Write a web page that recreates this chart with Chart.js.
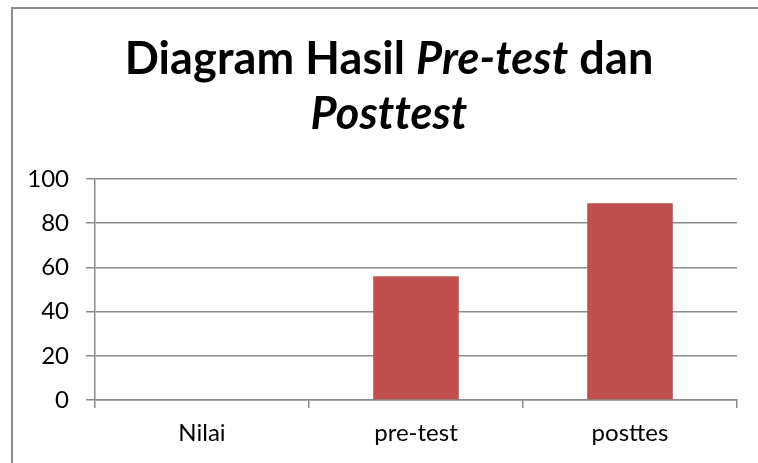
<!DOCTYPE html>
<html>
<head>
<meta charset="utf-8">
<script src="https://cdn.jsdelivr.net/npm/chart.js@4/dist/chart.umd.min.js"></script>
<style>
  html, body { margin: 0; padding: 0; background: #fff; }
  #c { display: block; }
</style>
</head>
<body>
<canvas id="c" width="758" height="463"></canvas>
<script>
const categories = ['Nilai', 'pre-test', 'posttes'];
const values = [0, 56, 89];
const yTicks = [0, 20, 40, 60, 80, 100];
const titleLine1 = [
  { text: 'Diagram Hasil ', italic: false },
  { text: 'Pre-test', italic: true },
  { text: ' dan', italic: false }
];
const titleLine2 = [
  { text: 'Posttest', italic: true }
];

const FONT = 'Lato';
const GRID = '#8a8a8a';

const framePlugin = {
  id: 'frameTitle',
  beforeDraw(chart) {
    const ctx = chart.ctx;
    ctx.save();
    ctx.fillStyle = '#fff';
    ctx.fillRect(0, 0, chart.width, chart.height);
    ctx.strokeStyle = '#8c8c8c';
    ctx.lineWidth = 2;
    ctx.beginPath();
    ctx.moveTo(12, chart.height);
    ctx.lineTo(12, 8);
    ctx.lineTo(chart.width, 8);
    ctx.stroke();
    ctx.restore();
  },
  afterDraw(chart) {
    const ctx = chart.ctx;
    const size = 45;
    const cx = 389;
    const drawLine = (parts, baseline) => {
      ctx.save();
      ctx.fillStyle = '#000';
      ctx.textBaseline = 'alphabetic';
      ctx.textAlign = 'left';
      if ('letterSpacing' in ctx) ctx.letterSpacing = '0.1px';
      let total = 0;
      const widths = parts.map(p => {
        ctx.font = (p.italic ? 'italic ' : '') + 'bold ' + size + 'px ' + FONT;
        const w = ctx.measureText(p.text).width;
        total += w;
        return w;
      });
      let x = cx - total / 2;
      parts.forEach((p, i) => {
        ctx.font = (p.italic ? 'italic ' : '') + 'bold ' + size + 'px ' + FONT;
        ctx.fillText(p.text, x, baseline);
        x += widths[i];
      });
      ctx.restore();
    };
    drawLine(titleLine1, 74);
    drawLine(titleLine2, 129);
  }
};

new Chart(document.getElementById('c'), {
  type: 'bar',
  data: {
    labels: categories,
    datasets: [{
      data: values,
      backgroundColor: '#C0504D',
      borderWidth: 0,
      barPercentage: 0.4,
      categoryPercentage: 1.0
    }]
  },
  options: {
    responsive: false,
    devicePixelRatio: 1,
    animation: false,
    layout: { padding: { top: 179, right: 21, left: 0, bottom: 0 } },
    plugins: {
      legend: { display: false },
      tooltip: { enabled: false },
      title: { display: false }
    },
    scales: {
      y: {
        min: 0,
        max: 100,
        afterBuildTicks(scale) { scale.ticks = yTicks.map(v => ({ value: v })); },
        afterFit(scale) { scale.width = 95; },
        ticks: {
          color: '#000',
          font: { family: FONT, size: 24 },
          padding: 17
        },
        grid: {
          color: GRID,
          lineWidth: 1.5,
          tickLength: 9,
          drawTicks: true
        },
        border: { color: GRID, width: 1.5 }
      },
      x: {
        afterFit(scale) { scale.height = 63; },
        ticks: {
          color: '#000',
          font: { family: FONT, size: 24 },
          padding: 11
        },
        grid: {
          offset: true,
          drawOnChartArea: false,
          drawTicks: true,
          tickLength: 8,
          color: GRID,
          lineWidth: 1.5
        },
        border: { color: GRID, width: 1.5 }
      }
    }
  },
  plugins: [framePlugin]
});
</script>
</body>
</html>
